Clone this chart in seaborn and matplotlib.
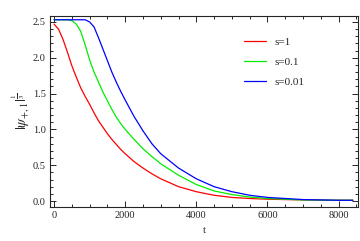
import matplotlib
matplotlib.use("Agg")
import matplotlib.pyplot as plt
import pandas as pd
import seaborn as sns
from matplotlib.ticker import MultipleLocator, FormatStrFormatter

# values
t = [0, 125, 250, 375, 500, 625, 750, 875, 1000, 1125, 1250, 1375, 1500,
     1625, 1750, 1875, 2000, 2250, 2500, 2750, 3000, 3500, 4000, 4500,
     5000, 5500, 6000, 7000, 8000, 8400]
s1 = [2.47, 2.40, 2.26, 2.08, 1.89, 1.73, 1.58, 1.46, 1.35, 1.23, 1.12, 1.03,
      0.94, 0.86, 0.79, 0.72, 0.66, 0.55, 0.46, 0.38, 0.31, 0.20, 0.13, 0.08,
      0.05, 0.035, 0.025, 0.015, 0.01, 0.01]
s01 = [2.53, 2.53, 2.53, 2.53, 2.52, 2.47, 2.37, 2.18, 1.97, 1.80, 1.66, 1.52,
       1.40, 1.28, 1.17, 1.08, 1.00, 0.86, 0.73, 0.62, 0.52, 0.36, 0.23, 0.14,
       0.09, 0.055, 0.035, 0.015, 0.01, 0.01]
s001 = [2.53, 2.53, 2.53, 2.53, 2.53, 2.53, 2.53, 2.53, 2.50, 2.43, 2.28, 2.12,
        1.96, 1.80, 1.66, 1.53, 1.41, 1.18, 0.98, 0.80, 0.66, 0.46, 0.31, 0.20,
        0.13, 0.08, 0.05, 0.02, 0.01, 0.01]
labels = ["s=1", "s=0.1", "s=0.01"]
colors = ["#ff0000", "#00ee00", "#0000ff"]

df = pd.concat([
    pd.DataFrame({"t": t, "v": vals, "s": lab})
    for vals, lab in zip([s1, s01, s001], labels)
])

sns.set_style("ticks")
plt.rcParams['font.family'] = ['Liberation Serif', 'DejaVu Serif']
plt.rcParams['mathtext.fontset'] = 'stix'

fig = plt.figure(figsize=(3.6, 2.41), dpi=100)
ax = fig.add_axes([0.139, 0.141, 0.855, 0.793])
sns.lineplot(data=df, x="t", y="v", hue="s", palette=colors, linewidth=0.9,
             ax=ax, sort=False)

ax.set_xlim(-112, 8540)
ax.set_ylim(-0.084, 2.584)
ax.xaxis.set_major_locator(MultipleLocator(2000))
ax.xaxis.set_minor_locator(MultipleLocator(500))
ax.yaxis.set_major_locator(MultipleLocator(0.5))
ax.yaxis.set_minor_locator(MultipleLocator(0.1))
ax.yaxis.set_major_formatter(FormatStrFormatter('%.1f'))
ax.tick_params(which='both', direction='in', top=True, right=True,
               labelsize=7.5, width=0.7, pad=3)
ax.tick_params(which='major', length=4)
ax.tick_params(which='minor', length=2)
for sp in ax.spines.values():
    sp.set_linewidth(0.8)

ax.set_xlabel("t", fontsize=8)
ax.set_ylabel(r"$|\psi_{+,1}|^{\frac{1}{3}}$", fontsize=10.5, labelpad=1)

ax.legend(title=None, frameon=False, fontsize=8, loc='upper right',
          bbox_to_anchor=(0.86, 0.94), handlelength=2.0, handletextpad=0.8,
          labelspacing=0.9)

fig.savefig("out.png", dpi=100)
